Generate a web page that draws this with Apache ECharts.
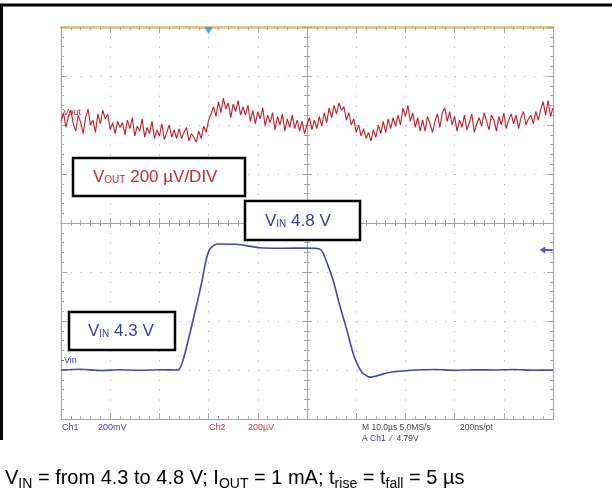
<!DOCTYPE html>
<html><head><meta charset="utf-8">
<script src="https://cdn.jsdelivr.net/npm/echarts@6/dist/echarts.min.js"></script>
<style>html,body{margin:0;padding:0;background:#fff;}#c{width:612px;height:494px;}</style>
</head><body><div id="c"></div>
<script>
// ---- data ----
// time across the screen in microseconds (10 us/div, 10 divisions)
const voutStartUs = 0;
const voutStepUs = 0.5;
// VOUT ripple in microvolts (200 uV/div), relative to its trace level
const voutMicroV = [
  15, 50, -10, 35, 60, 5, -25, 40, 10, -35, 30, 65, 0, 20, -30, 45, 5,
  60, 25, 45, -20, 10, -35, 15, -10,
  10, -40, 20, -15, 30, -45, -5, -25, 25, -50, -10, -35, 15, -55, -20, -45, 5, -60, -30, 0, -50, -20, -55,
  -15, -55, -30, -10, -65, -35, -50, -70, -25, -55, -5, -30, 20, 45, 75,
  35, 95, 50, 110, 65, 90, 30, 85, 55, 100, 40, 75,
  40, 80, 15, 60, 5, 55, 25, 70, -5, 40, 10, 50, -20, 35, 0, 45, -25, 25, -10, 40, -15, 20,
  -25, 15, -35, 0, 30, -20, 20, -15, 35, -5, 50, 10, 70, 30,
  80, 45, 90, 60, 75, 20, 50, 0,
  25, -30, 0, -45, -15, -55, -30, -65, -20, -50, 0, -35,
  15, -30, 25, -15, 30, -5, 40, 0, 70, 35, 80, 15, 50, -10, 30, -25,
  20, -25, 35, 5, -30, 15, 45, -10, 50, 70, 15, 55, 0, 35, -25, 20, -10, 40, -20, 10, 45, -30, 5, 30, -5, 50, 15, -20, 40, 20, -25, 35, 0, 50, -15, 20, 45, 5, 40, -15, 30, 55, 0, 25,
  40, 5, 55, 20, 65, 95, 40, 100, 35, 70
];
// VIN step 4.3 V -> 4.8 V (200 mV/div)
const vinTimeUs = [0, 4, 8, 12, 16, 20, 23.8, 24.8, 26.2, 27.5, 28.7, 29.5, 30.3, 31.7, 35.4, 40.4, 45, 50, 52.4, 53.2, 54.2,
  55.3, 56.7, 58.1, 59.2, 60.1, 61.2, 62.8, 64.5, 66.2, 69.5, 72, 76, 80, 84, 88, 92, 96, 100];
const vinVolts = [4.300, 4.303, 4.298, 4.301, 4.299, 4.301, 4.300, 4.34, 4.45, 4.56, 4.667, 4.75, 4.795, 4.814, 4.813, 4.799, 4.797, 4.798, 4.795, 4.78, 4.73,
  4.667, 4.56, 4.463, 4.38, 4.329, 4.29, 4.271, 4.278, 4.288, 4.296, 4.300, 4.302, 4.299, 4.301, 4.300, 4.302, 4.299, 4.300];
const triggerTimeUs = 30;
const triggerLevelV = 4.79;
// scope readout texts
const readout = {ch1: 'Ch1', ch1Scale: '200mV', ch2: 'Ch2', ch2Scale: '200µV', time: 'M 10.0µs 5.0MS/s', rate: '200ns/pt', trig: '4.79V'};

// ---- build ----
const voutData = voutMicroV.map((v, i) => [voutStartUs + i * voutStepUs, v]);
const vinData = vinTimeUs.map((t, i) => [t, vinVolts[i]]);

const GRID = '#a4a4a4';
const DOT = '#b8b8b8';
const FONT = 'Liberation Sans, Arial, Helvetica, sans-serif';

function edgeX(pos, extra) {
  return Object.assign({
    type: 'value', position: pos, min: 0, max: 100, interval: 10,
    axisLine: {show: true, onZero: false, lineStyle: {color: GRID, width: 1}},
    axisTick: {show: true, inside: true, length: 6, lineStyle: {color: GRID}},
    minorTick: {show: true, splitNumber: 5, length: 3, lineStyle: {color: GRID}},
    axisLabel: {show: false}, splitLine: {show: false}
  }, extra || {});
}
function edgeY(pos, extra) {
  return Object.assign({
    type: 'value', position: pos, min: -4, max: 4, interval: 1,
    axisLine: {show: true, onZero: false, lineStyle: {color: GRID, width: 1}},
    axisTick: {show: true, inside: true, length: 6, lineStyle: {color: GRID}},
    minorTick: {show: true, splitNumber: 5, length: 3, lineStyle: {color: GRID}},
    axisLabel: {show: false}, splitLine: {show: false}
  }, extra || {});
}
function centreAxis(base, pos, onZeroIdx, min, max) {
  base.position = pos; base.min = min; base.max = max;
  base.axisLine = {show: true, onZero: true, onZeroAxisIndex: onZeroIdx, lineStyle: {color: GRID, width: 1}};
  base.axisTick = {show: true, inside: false, length: 5, lineStyle: {color: GRID}};
  base.minorTick = {show: true, splitNumber: 5, length: 3, lineStyle: {color: GRID}};
  return base;
}
function subText(parts, color, nSize, sSize, pad) {
  // parts: [normal, sub, normal, sub, ...]
  let t = '';
  parts.forEach((p, i) => { if (p !== '') t += '{' + (i % 2 ? 's' : 'n') + '|' + p + '}'; });
  return {
    text: t, verticalAlign: 'middle',
    rich: {n: {fontSize: nSize, fill: color, fontFamily: FONT},
           s: {fontSize: sSize, fill: color, fontFamily: FONT, padding: [pad, 0, 0, 0]}}
  };
}

const chart = echarts.init(document.getElementById('c'), null, {renderer: 'canvas'});
chart.setOption({
  animation: false,
  backgroundColor: '#fff',
  grid: {left: 61, top: 27, right: 59, bottom: 75, containLabel: false, outerBoundsMode: 'none'},
  xAxis: [
    edgeX('bottom', {splitLine: {show: true, lineStyle: {color: DOT, width: 1, type: [1.3, 8.5]}}}),
    edgeX('top', {min: -50, max: 50, axisLine: {show: true, onZero: false, lineStyle: {color: '#e0c49c', width: 3}}}),
    centreAxis(edgeX('bottom'), 'bottom', 0, 0, 100),
    centreAxis(edgeX('top'), 'top', 0, 0, 100)
  ],
  yAxis: [
    edgeY('left', {splitLine: {show: true, lineStyle: {color: DOT, width: 1, type: [1.3, 8.55]}}}),
    edgeY('right'),
    centreAxis(edgeY('left'), 'left', 1, -4, 4),
    centreAxis(edgeY('right'), 'right', 1, -4, 4),
    {type: 'value', show: false, min: 4.1, max: 5.7},
    {type: 'value', show: false, min: -1200, max: 400}
  ],
  series: [
    {type: 'line', name: 'VOUT', xAxisIndex: 0, yAxisIndex: 5, data: voutData, showSymbol: false,
      lineStyle: {color: '#bf1c28', width: 1.1}, z: 3},
    {type: 'line', name: 'VIN', xAxisIndex: 0, yAxisIndex: 4, data: vinData, showSymbol: false, smooth: 0.25,
      lineStyle: {color: '#4646aa', width: 1.6}, z: 4},
    {type: 'scatter', xAxisIndex: 0, yAxisIndex: 0, data: [[triggerTimeUs, 3.93]], symbol: 'triangle', symbolRotate: 180,
      symbolSize: [9, 7], itemStyle: {color: '#2a9fd8'}, z: 5, silent: true},
    {type: 'scatter', xAxisIndex: 0, yAxisIndex: 4, data: [[98.6, triggerLevelV]],
      symbol: 'path://M0,5 L6,0 L6,3.5 L14,3.5 L14,6.5 L6,6.5 L6,10 Z', symbolKeepAspect: false,
      symbolSize: [13, 7], itemStyle: {color: '#2a2aa0'}, z: 5, silent: true}
  ],
  graphic: [
    // outer frame
    {type: 'line', shape: {x1: 0, y1: 5, x2: 612, y2: 5}, style: {stroke: '#000', lineWidth: 3}, z: 50},
    {type: 'line', shape: {x1: 1.5, y1: 4, x2: 1.5, y2: 440}, style: {stroke: '#000', lineWidth: 3}, z: 50},
    // annotation boxes
    {type: 'rect', shape: {x: 73, y: 158, width: 172, height: 38}, style: {fill: '#fff', stroke: '#000', lineWidth: 2.5}, z: 60},
    {type: 'rect', shape: {x: 245, y: 201, width: 115, height: 39}, style: {fill: '#fff', stroke: '#000', lineWidth: 2.5}, z: 60},
    {type: 'rect', shape: {x: 69, y: 312, width: 106, height: 38}, style: {fill: '#fff', stroke: '#000', lineWidth: 2.5}, z: 60},
    {type: 'text', x: 93, y: 177, z: 61, style: subText(['V', 'OUT', ' 200 µV/DIV'], '#c02a30', 17, 10, 7)},
    {type: 'text', x: 265, y: 221, z: 61, style: subText(['V', 'IN', ' 4.8 V'], '#3c3c9c', 17, 10, 7)},
    {type: 'text', x: 88, y: 331, z: 61, style: subText(['V', 'IN', ' 4.3 V'], '#3c3c9c', 17, 10, 7)},
    // trace labels
    {type: 'text', x: 63, y: 113, z: 6, style: {text: 'Vout', fontSize: 9, fill: '#c02a30', fontFamily: FONT, verticalAlign: 'middle'}},
    {type: 'text', x: 61, y: 361, z: 6, style: {text: '-Vin', fontSize: 9, fill: '#4646aa', fontFamily: FONT, verticalAlign: 'middle'}},
    // scope readouts
    {type: 'text', x: 62, y: 428, style: {text: readout.ch1, fontSize: 9, fill: '#3c3ca8', fontFamily: FONT, verticalAlign: 'middle'}},
    {type: 'text', x: 98, y: 428, style: {text: readout.ch1Scale, fontSize: 9, fill: '#3c3ca8', fontFamily: FONT, verticalAlign: 'middle'}},
    {type: 'text', x: 209, y: 428, style: {text: readout.ch2, fontSize: 9, fill: '#c83c40', fontFamily: FONT, verticalAlign: 'middle'}},
    {type: 'text', x: 248, y: 428, style: {text: readout.ch2Scale, fontSize: 9, fill: '#c83c40', fontFamily: FONT, verticalAlign: 'middle'}},
    {type: 'text', x: 362, y: 428, style: {text: readout.time, fontSize: 8.5, fill: '#444', fontFamily: FONT, verticalAlign: 'middle'}},
    {type: 'text', x: 460, y: 428, style: {text: readout.rate, fontSize: 8.5, fill: '#444', fontFamily: FONT, verticalAlign: 'middle'}},
    {type: 'text', x: 362, y: 439, style: {text: '{a|A }{b|Ch1}{a|  ⁄  ' + readout.trig + '}',
      rich: {a: {fontSize: 8.5, fill: '#444', fontFamily: FONT}, b: {fontSize: 8.5, fill: '#3c3ca8', fontFamily: FONT}}, verticalAlign: 'middle'}},
    // caption
    {type: 'text', x: 5, y: 478, style: subText(['V', 'IN', ' = from 4.3 to 4.8 V; I', 'OUT', ' = 1 mA; t', 'rise', ' = t', 'fall', ' = 5 µs'], '#000', 20, 14, 12)}
  ]
});
</script></body></html>
